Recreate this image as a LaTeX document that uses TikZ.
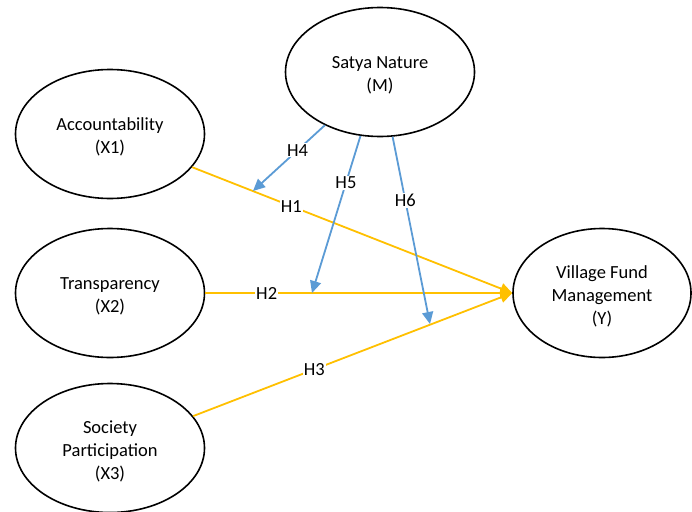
\documentclass[tikz,border=0pt]{standalone}
\usepackage{fontspec}
\setmainfont{Carlito}
\usetikzlibrary{shapes.geometric,arrows.meta}
\definecolor{gold}{HTML}{FFC000}
\definecolor{bluel}{HTML}{5B9BD5}
\tikzset{
  var/.style={ellipse, draw=black, line width=1.6pt, minimum width=189pt, minimum height=129pt, inner sep=0pt},
  vtext/.style={align=center, inner sep=0pt, yshift=-3pt, font=\fontsize{18.5}{23}\selectfont},
  goldarrow/.style={draw=gold, line width=1.8pt, -{Triangle[length=12pt,width=11pt]}},
  bluearrow/.style={draw=bluel, line width=1.8pt, -{Triangle[length=12pt,width=11pt]}},
  lab/.style={fill=white, inner sep=1pt, font=\fontsize{18.5}{22.5}\selectfont}
}
\begin{document}
\begin{tikzpicture}[x=1pt,y=-1pt]
\useasboundingbox[fill=white] (0,0) rectangle (692,511);
\node[var] (m) at (380,72) {};
\node[vtext] (mt) at (m.center) {Satya Nature\\(M)};
\node[var] (acc) at (110,134) {};
\node[vtext] (acct) at (acc.center) {Accountability\\(X1)};
\node[var] (tr) at (110,293) {};
\node[vtext] (trt) at (tr.center) {Transparency\\(X2)};
\node[var] (soc) at (110,448) {};
\node[vtext] (soct) at (soc.center) {Society\\Participation\\(X3)};
\node[var, minimum width=178pt] (vf) at (602,293) {};
\node[vtext] (vft) at (vf.center) {Village Fund\\Management\\(Y)};
% main paths
\draw[goldarrow] (acc.-22) -- node[lab, pos=0.31] (h1) {H1} (vf.west);
\draw[goldarrow] (tr.east) -- node[lab, pos=0.2] (h2) {H2} (vf.west);
\draw[goldarrow] (soc.21) -- node[lab, pos=0.38] (h3) {H3} (vf.west);
% moderation endpoints
\coordinate (e4) at (253,191);
\coordinate (e5) at (312,293);
\coordinate (e6) at (430,324);
\draw[bluearrow] (m.-136) -- node[lab, pos=0.38] (h4) {H4} (e4);
\draw[bluearrow] (m.-107.6) -- node[lab, pos=0.3] (h5) {H5} (e5);
\draw[bluearrow] (m.-79) -- node[lab, pos=0.34] (h6) {H6} (e6);
\end{tikzpicture}
\end{document}
